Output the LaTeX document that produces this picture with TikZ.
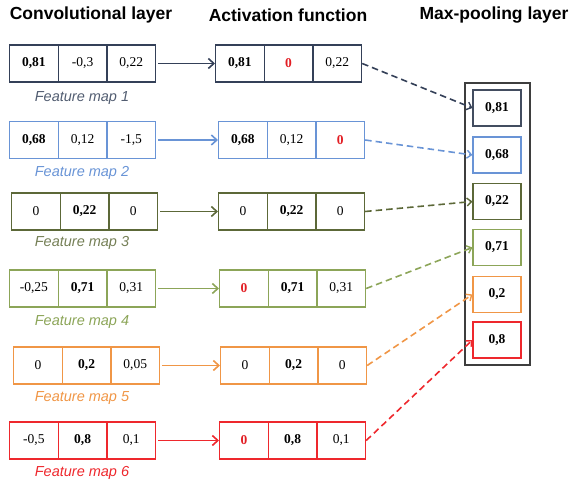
\documentclass[tikz,border=0pt]{standalone}
\usepackage{fontspec}
\setmainfont{Liberation Serif}
\setsansfont{Liberation Sans}
\usetikzlibrary{arrows.meta}

\definecolor{mapone}{RGB}{52,64,88}
\definecolor{maptwo}{RGB}{105,148,214}
\definecolor{mapthree}{RGB}{92,104,56}
\definecolor{mapfour}{RGB}{140,165,88}
\definecolor{mapfive}{RGB}{240,150,70}
\definecolor{mapsix}{RGB}{238,40,45}
\definecolor{zerored}{RGB}{226,30,36}
\definecolor{poolgray}{RGB}{62,62,62}

\begin{document}
\begin{tikzpicture}[
    x=1pt, y=-1pt,
    cell/.style={draw, rectangle, minimum width=48.7pt, minimum height=37pt, inner sep=0pt, anchor=west, line width=1.1pt, font=\fontsize{13.5}{15}\selectfont},
    poolcell/.style={draw, rectangle, minimum width=48pt, minimum height=36pt, inner sep=0pt, line width=1.1pt, font=\fontsize{13.5}{15}\selectfont\bfseries},
    heading/.style={font=\fontsize{17.5}{20}\selectfont\sffamily\bfseries},
    maplabel/.style={font=\fontsize{14.5}{16}\selectfont\sffamily\itshape},
    flow/.style={-{Straight Barb[length=5.5pt,width=10pt,line width=1.6pt]}, line width=1.8pt, shorten <=2pt},
    pooled/.style={-{Straight Barb[length=4.5pt,width=8pt,line width=1.4pt]}, line width=1.6pt, dash pattern=on 6.5pt off 4pt}
]
    \useasboundingbox (0,0) rectangle (571,486);

    % Titles
    \node[heading] (convtitle) at (91,15) {Convolutional layer};
    \node[heading] (acttitle) at (288,15) {Activation function};
    \node[heading] (pooltitle) at (494,15) {Max-pooling layer};

    % Max-pooling layer
    \node[draw=poolgray, line width=1.3pt, minimum width=65pt, minimum height=282pt, inner sep=0pt] (pool) at (497.5,224) {};
    \node[poolcell, draw=mapone!80!gray] (p1) at (497,108) {0,81};
    \node[poolcell, draw=maptwo] (p2) at (497,155) {0,68};
    \node[poolcell, draw=mapthree] (p3) at (497,201.5) {0,22};
    \node[poolcell, draw=mapfour] (p4) at (497,247.5) {0,71};
    \node[poolcell, draw=mapfive] (p5) at (497,294.5) {0,2};
    \node[poolcell, draw=mapsix] (p6) at (497,340) {0,8};

    % Feature map 1
    \node[cell, draw=mapone, font=\fontsize{13.5}{15}\selectfont\bfseries] (c1a) at (9,63.5) {0,81};
    \node[cell, draw=mapone] (c1b) at (57.7,63.5) {-0,3};
    \node[cell, draw=mapone] (c1c) at (106.4,63.5) {0,22};
    \node[maplabel, text=mapone!85!white] (m1) at (82,98) {Feature map 1};
    \node[cell, draw=mapone, font=\fontsize{13.5}{15}\selectfont\bfseries] (a1a) at (215,63.5) {0,81};
    \node[cell, draw=mapone, text=zerored, font=\fontsize{13.5}{15}\selectfont\bfseries] (a1b) at (263.7,63.5) {0};
    \node[cell, draw=mapone] (a1c) at (312.4,63.5) {0,22};
    \draw[flow, mapone] (c1c.east) -- (a1a.west);
    \draw[pooled, mapone] (a1c.east) -- (p1.west);

    % Feature map 2
    \node[cell, draw=maptwo, font=\fontsize{13.5}{15}\selectfont\bfseries] (c2a) at (9,140) {0,68};
    \node[cell, draw=maptwo] (c2b) at (57.7,140) {0,12};
    \node[cell, draw=maptwo] (c2c) at (106.4,140) {-1,5};
    \node[maplabel, text=maptwo] (m2) at (82,173) {Feature map 2};
    \node[cell, draw=maptwo, font=\fontsize{13.5}{15}\selectfont\bfseries] (a2a) at (218,140) {0,68};
    \node[cell, draw=maptwo] (a2b) at (266.7,140) {0,12};
    \node[cell, draw=maptwo, text=zerored, font=\fontsize{13.5}{15}\selectfont\bfseries] (a2c) at (315.4,140) {0};
    \draw[flow, maptwo] (c2c.east) -- (a2a.west);
    \draw[pooled, maptwo] (a2c.east) -- (p2.west);

    % Feature map 3
    \node[cell, draw=mapthree] (c3a) at (11,211.5) {0};
    \node[cell, draw=mapthree, font=\fontsize{13.5}{15}\selectfont\bfseries] (c3b) at (59.7,211.5) {0,22};
    \node[cell, draw=mapthree] (c3c) at (108.4,211.5) {0};
    \node[maplabel, text=mapthree!85!white] (m3) at (82,243) {Feature map 3};
    \node[cell, draw=mapthree] (a3a) at (218,211.5) {0};
    \node[cell, draw=mapthree, font=\fontsize{13.5}{15}\selectfont\bfseries] (a3b) at (266.7,211.5) {0,22};
    \node[cell, draw=mapthree] (a3c) at (315.4,211.5) {0};
    \draw[flow, mapthree] (c3c.east) -- (a3a.west);
    \draw[pooled, mapthree] (a3c.east) -- (p3.west);

    % Feature map 4
    \node[cell, draw=mapfour] (c4a) at (9,288.5) {-0,25};
    \node[cell, draw=mapfour, font=\fontsize{13.5}{15}\selectfont\bfseries] (c4b) at (57.7,288.5) {0,71};
    \node[cell, draw=mapfour] (c4c) at (106.4,288.5) {0,31};
    \node[maplabel, text=mapfour] (m4) at (82,322) {Feature map 4};
    \node[cell, draw=mapfour, text=zerored, font=\fontsize{13.5}{15}\selectfont\bfseries] (a4a) at (219,288.5) {0};
    \node[cell, draw=mapfour, font=\fontsize{13.5}{15}\selectfont\bfseries] (a4b) at (267.7,288.5) {0,71};
    \node[cell, draw=mapfour] (a4c) at (316.4,288.5) {0,31};
    \draw[flow, mapfour] (c4c.east) -- (a4a.west);
    \draw[pooled, mapfour] (a4c.east) -- (p4.west);

    % Feature map 5
    \node[cell, draw=mapfive] (c5a) at (13,365.5) {0};
    \node[cell, draw=mapfive, font=\fontsize{13.5}{15}\selectfont\bfseries] (c5b) at (61.7,365.5) {0,2};
    \node[cell, draw=mapfive] (c5c) at (110.4,365.5) {0,05};
    \node[maplabel, text=mapfive] (m5) at (82,398) {Feature map 5};
    \node[cell, draw=mapfive] (a5a) at (220,365.5) {0};
    \node[cell, draw=mapfive, font=\fontsize{13.5}{15}\selectfont\bfseries] (a5b) at (268.7,365.5) {0,2};
    \node[cell, draw=mapfive] (a5c) at (317.4,365.5) {0};
    \draw[flow, mapfive] (c5c.east) -- (a5a.west);
    \draw[pooled, mapfive] (a5c.east) -- (p5.west);

    % Feature map 6
    \node[cell, draw=mapsix] (c6a) at (9,440.5) {-0,5};
    \node[cell, draw=mapsix, font=\fontsize{13.5}{15}\selectfont\bfseries] (c6b) at (57.7,440.5) {0,8};
    \node[cell, draw=mapsix] (c6c) at (106.4,440.5) {0,1};
    \node[maplabel, text=mapsix] (m6) at (82,473) {Feature map 6};
    \node[cell, draw=mapsix, text=zerored, font=\fontsize{13.5}{15}\selectfont\bfseries] (a6a) at (219,440.5) {0};
    \node[cell, draw=mapsix, font=\fontsize{13.5}{15}\selectfont\bfseries] (a6b) at (267.7,440.5) {0,8};
    \node[cell, draw=mapsix] (a6c) at (316.4,440.5) {0,1};
    \draw[flow, mapsix] (c6c.east) -- (a6a.west);
    \draw[pooled, mapsix] (a6c.east) -- (p6.west);

\end{tikzpicture}
\end{document}
